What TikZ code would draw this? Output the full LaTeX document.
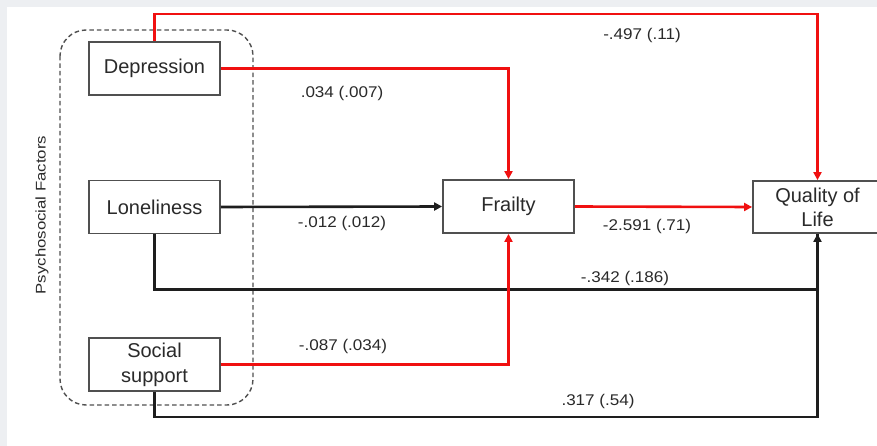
\documentclass[tikz,border=0pt]{standalone}
\usepackage{fontspec}
\setmainfont{Liberation Sans}
\usetikzlibrary{arrows.meta}
\definecolor{bgray}{HTML}{EDEFF2}
\definecolor{boxline}{HTML}{505050}
\definecolor{lnk}{HTML}{1E1E1E}
\definecolor{redl}{HTML}{F01010}
\definecolor{txt}{HTML}{2A2A2A}
\tikzset{
  box/.style={draw=boxline, line width=1.8pt, fill=white, minimum width=131pt, minimum height=53pt, inner sep=0pt, align=center, text=txt, font=\fontsize{20}{24}\selectfont},
  redarrow/.style={draw=redl, line width=2.6pt, -{Triangle[length=8pt,width=8pt]}},
  blkarrow/.style={draw=lnk, line width=2.6pt, -{Triangle[length=8pt,width=8pt]}},
  redline/.style={draw=redl, line width=2.6pt},
  blkline/.style={draw=lnk, line width=2.6pt},
  lbl/.style={text=txt, inner sep=0pt, font=\fontsize{15.5}{18}\selectfont},
  grp/.style={draw=boxline, line width=1.4pt, dash pattern=on 4.5pt off 3pt, rounded corners=26pt}
}
\begin{document}
\begin{tikzpicture}[x=1pt,y=-1pt]
\useasboundingbox (0,0) rectangle (877,446);
\clip (0,0) rectangle (877,446);
\fill[bgray] (0,0) rectangle (877,446);
\fill[white] (7,7) rectangle (877,446);

\draw[grp] (60,30) rectangle (253,405);
\node[lbl, rotate=90] (psy) at (42,215) {\scalebox{1.2}[1]{\fontsize{14}{16}\selectfont Psychosocial Factors}};

\node[box] (dep) at (154.5,68.5) {Depression};
\node[box] (lon) at (154.5,207) {Loneliness};
\node[box] (soc) at (154.5,364.5) {Social\\[1pt]support};
\node[box] (fra) at (508.5,206.5) {Frailty};
\node[box, minimum width=129pt, minimum height=52pt] (qol) at (817.5,207) {Quality of\\[0pt]Life};

% paths
\draw[redarrow] (dep.north) -- ++(0,-27) -| (qol.north);
\draw[redarrow] (dep.east) -| (fra.north);
\draw[blkarrow] (lon.east) -- (fra.west);
\draw[redarrow] (fra.east) -- (qol.west);
\draw[blkline] (lon.south) -- ++(0,55) -| (qol.south);
\draw[blkarrow] (soc.south) -- ++(0,25) -| (qol.south);
\draw[redarrow] (soc.east) -| (fra.south);

% labels
\node[lbl] (l1) at (642,35) {\scalebox{1.1}[1]{-.497 (.11)}};
\node[lbl] (l2) at (342,93) {\scalebox{1.1}[1]{.034 (.007)}};
\node[lbl] (l3) at (342,223) {\scalebox{1.1}[1]{-.012 (.012)}};
\node[lbl] (l4) at (647,226) {\scalebox{1.1}[1]{-2.591 (.71)}};
\node[lbl] (l5) at (625,278) {\scalebox{1.1}[1]{-.342 (.186)}};
\node[lbl] (l6) at (343,346) {\scalebox{1.1}[1]{-.087 (.034)}};
\node[lbl] (l7) at (598,401) {\scalebox{1.1}[1]{.317 (.54)}};
\end{tikzpicture}
\end{document}
